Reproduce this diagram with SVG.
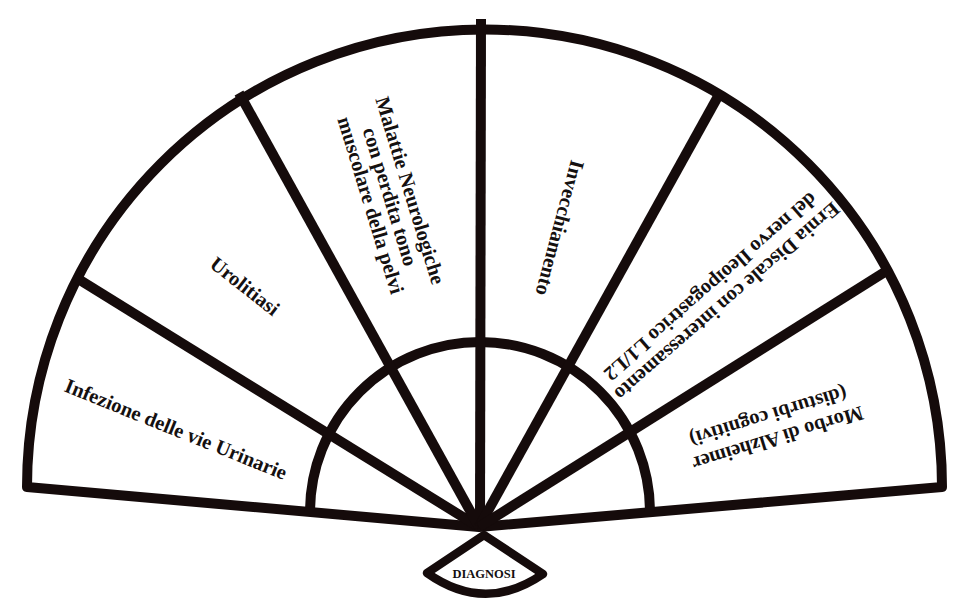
<svg xmlns="http://www.w3.org/2000/svg" width="968" height="611" viewBox="0 0 968 611">
  <style>
    .ln { fill: none; stroke: #150b0b; stroke-width: 10; stroke-linejoin: round; stroke-linecap: butt; }
    .lbl { font-family: "Liberation Serif", "Times New Roman", serif; font-weight: bold; font-size: 20.5px; fill: #141010; text-anchor: middle; dominant-baseline: central; }
    .dg { font-family: "Liberation Serif", "Times New Roman", serif; font-weight: bold; font-size: 12.5px; fill: #141010; text-anchor: middle; }
  </style>
  <rect width="968" height="611" fill="#ffffff"/>
  <g id="fan-frame">
    <path class="ln" d="M27,487 A457,457 0 0 1 942,487 L479,527 Z"/>
    <path class="ln" d="M310,512 A170,170 0 0 1 650,512"/>
  </g>
  <g id="connectors">
    <line class="ln" x1="75" y1="277" x2="479" y2="527"/>
    <line class="ln" x1="239" y1="93" x2="479" y2="527"/>
    <line class="ln" x1="481" y1="19" x2="480" y2="527"/>
    <line class="ln" x1="721" y1="91" x2="479" y2="527"/>
    <line class="ln" x1="888" y1="270" x2="479" y2="527"/>
  </g>
  <g id="node-infezione">
    <text class="lbl" transform="translate(176,429) rotate(22)">Infezione delle vie Urinarie</text>
  </g>
  <g id="node-urolitiasi">
    <text class="lbl" transform="translate(245,286) rotate(38)">Urolitiasi</text>
  </g>
  <g id="node-malattie">
    <text class="lbl" transform="translate(391,199) rotate(73)">
      <tspan x="0" y="-21">Malattie Neurologiche</tspan>
      <tspan x="0" y="0">con perdita tono</tspan>
      <tspan x="0" y="21">muscolare della pelvi</tspan>
    </text>
  </g>
  <g id="node-invecchiamento">
    <text class="lbl" transform="translate(560,228) rotate(105)">Invecchiamento</text>
  </g>
  <g id="node-ernia">
    <text class="lbl" transform="translate(718,295) rotate(139)">
      <tspan x="0" y="-11">Ernia Discale con interessamento</tspan>
      <tspan x="0" y="11">del nervo Ileoipogastrico L1/L2</tspan>
    </text>
  </g>
  <g id="node-alzheimer">
    <text class="lbl" transform="translate(772,428) rotate(163)">
      <tspan x="0" y="-12">Morbo di Alzheimer</tspan>
      <tspan x="0" y="12">(disturbi cognitivi)</tspan>
    </text>
  </g>
  <g id="node-diagnosi">
    <path d="M427,573 L484,535 L543,574 Q485,614 427,573 Z" fill="#ffffff" stroke="#150b0b" stroke-width="8.5" stroke-linejoin="round"/>
    <text class="dg" x="484" y="578">DIAGNOSI</text>
  </g>
</svg>
